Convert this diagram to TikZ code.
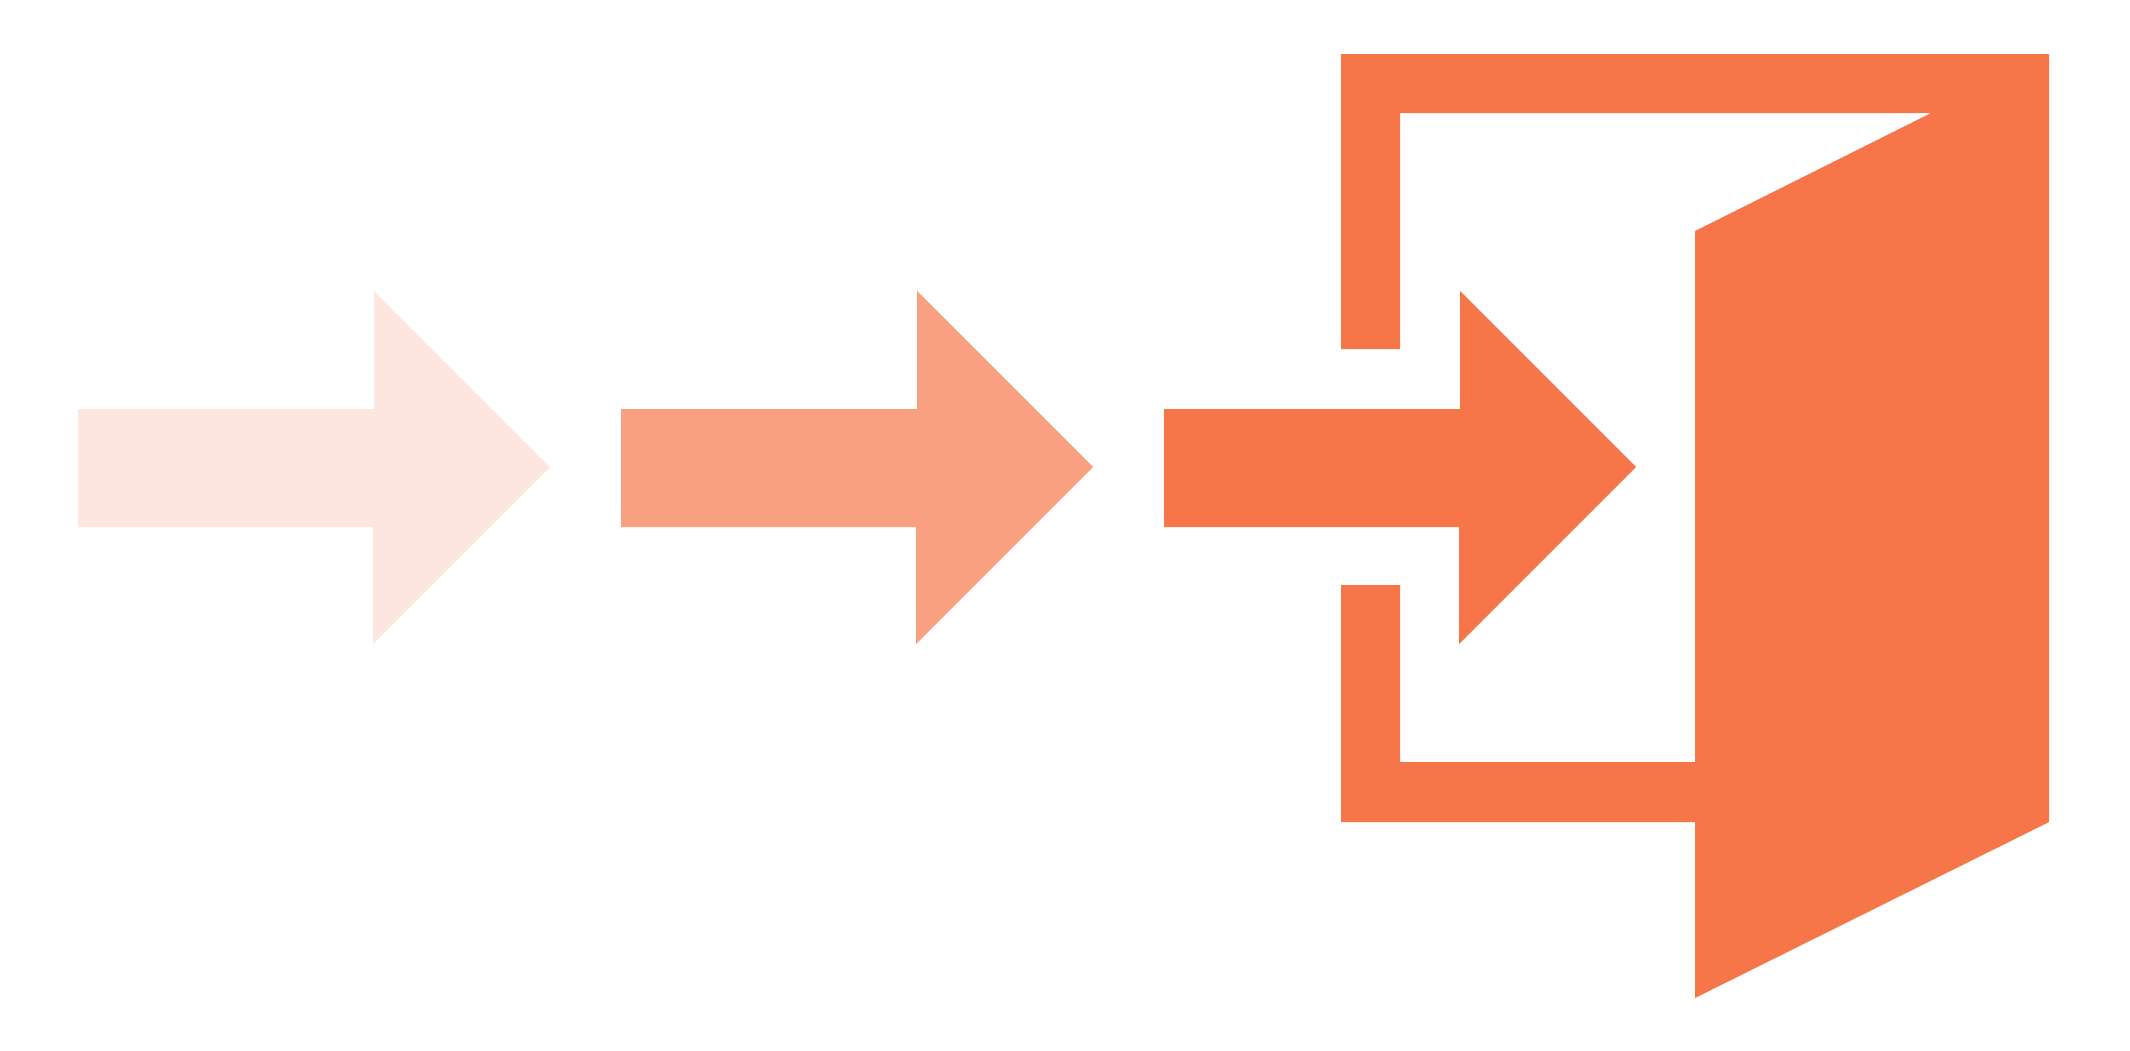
\documentclass[tikz,border=0pt]{standalone}
\definecolor{doorcol}{HTML}{F6764A}
\definecolor{midcol}{HTML}{F9A080}
\definecolor{palecol}{HTML}{FDE6E0}
\begin{document}
\begin{tikzpicture}[x=1pt,y=-1pt]
    \useasboundingbox (0,0) rectangle (2130,1050);

    % Arrows, one for each step
    \foreach \dx/\col in {0/palecol, 543/midcol, 1086/doorcol}
        \fill[\col, shift={(\dx,0)}] (78,409) -- (374,409) -- (374,291) -- (550,467) -- (373,644) -- (373,527) -- (78,527) -- cycle;

    % Door and frame
    \fill[doorcol] (1341,54) -- (2049,54) -- (2049,822) -- (1695,998) -- (1695,822) -- (1341,822)
        -- (1341,585) -- (1400,585) -- (1400,762) -- (1695,762) -- (1695,231) -- (1931,113)
        -- (1400,113) -- (1400,349) -- (1341,349) -- cycle;
\end{tikzpicture}
\end{document}
